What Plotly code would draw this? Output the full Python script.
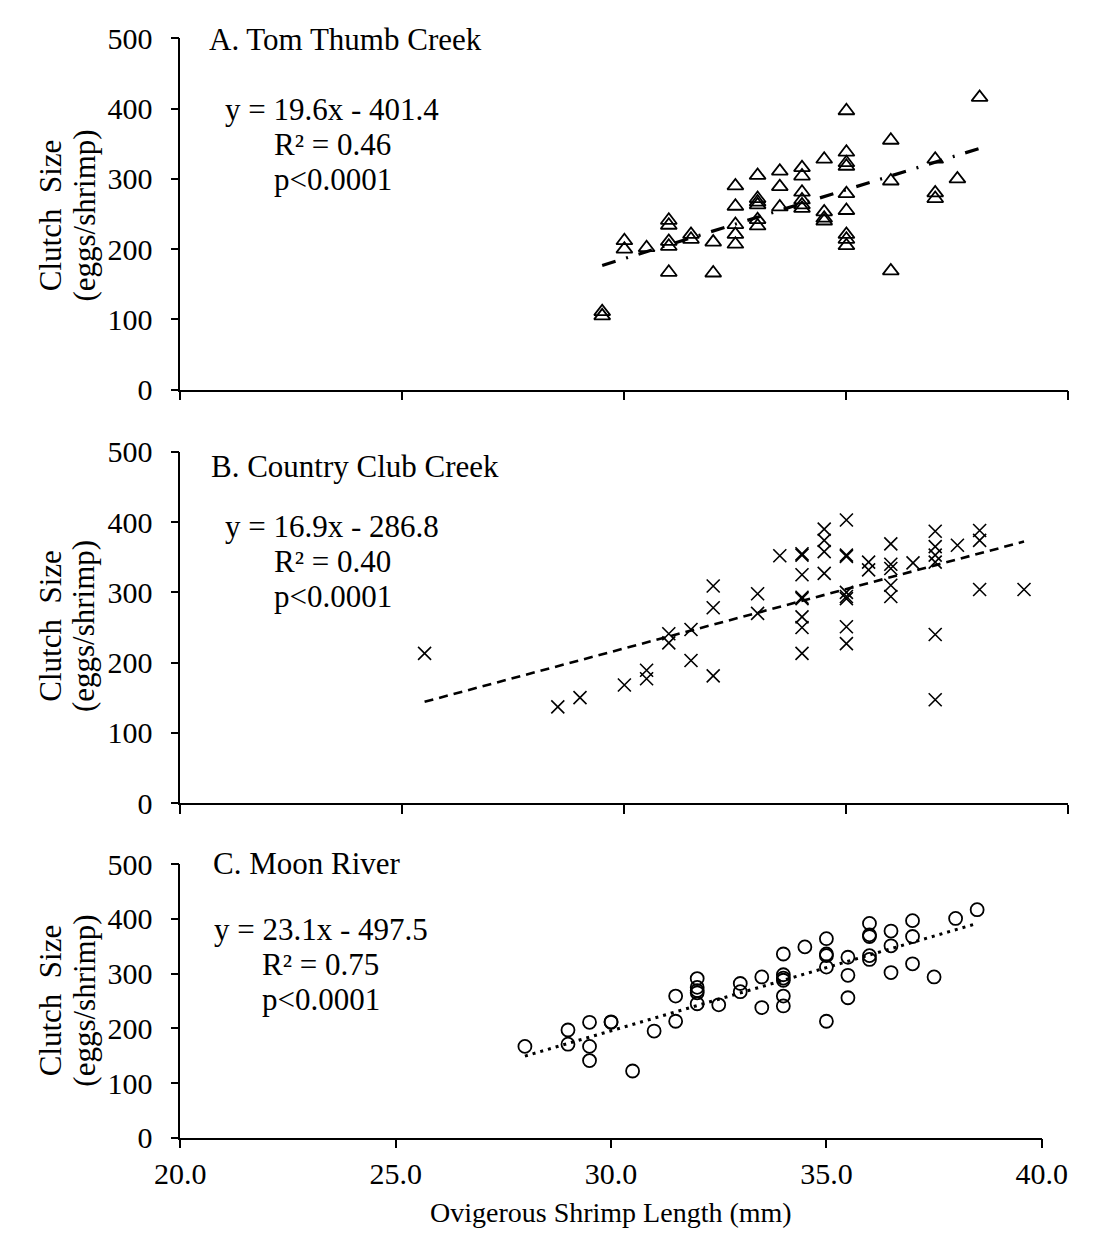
import plotly.graph_objects as go

W, H = 1103, 1251
FONT = "Liberation Serif, Times New Roman, serif"

# ---- Panel A: Tom Thumb Creek (triangles) ----
a_len = [29.5, 29.5,
         30.0, 30.0,
         30.5,
         31.0, 31.0, 31.0, 31.0, 31.0,
         31.5, 31.5,
         32.0, 32.0,
         32.5, 32.5, 32.5, 32.5, 32.5,
         33.0, 33.0, 33.0, 33.0, 33.0, 33.0,
         33.5, 33.5, 33.5,
         34.0, 34.0, 34.0, 34.0, 34.0, 34.0,
         34.5, 34.5, 34.5, 34.5,
         35.0, 35.0, 35.0, 35.0, 35.0, 35.0, 35.0, 35.0, 35.0,
         36.0, 36.0, 36.0,
         37.0, 37.0, 37.0,
         37.5,
         38.0]
a_clutch = [111, 105,
            212, 200,
            202,
            241, 234, 211, 204, 167,
            221, 214,
            210, 166,
            290, 261, 235, 221, 207,
            305, 272, 267, 263, 242, 233,
            311, 289, 260,
            316, 304, 281, 270, 263, 258,
            328, 253, 244, 240,
            397, 338, 323, 318, 279, 255, 221, 214, 205,
            355, 297, 169,
            328, 280, 272,
            300,
            416]

# ---- Panel B: Country Club Creek (crosses) ----
b_len = [25.5,
         28.5,
         29.0,
         30.0,
         30.5, 30.5,
         31.0, 31.0,
         31.5, 31.5,
         32.0, 32.0, 32.0,
         33.0, 33.0,
         33.5,
         34.0, 34.0, 34.0, 34.0, 34.0, 34.0, 34.0, 34.0,
         34.5, 34.5, 34.5, 34.5,
         35.0, 35.0, 35.0, 35.0, 35.0, 35.0, 35.0, 35.0,
         35.5, 35.5,
         36.0, 36.0, 36.0, 36.0, 36.0,
         36.5,
         37.0, 37.0, 37.0, 37.0, 37.0, 37.0,
         37.5,
         38.0, 38.0, 38.0,
         39.0]
b_clutch = [213,
            137,
            150,
            168,
            189, 177,
            241, 228,
            247, 203,
            309, 278, 181,
            298, 270,
            352,
            355, 353, 325, 293, 291, 265, 250, 213,
            390, 374, 358, 327,
            403, 353, 351, 300, 294, 291, 251, 227,
            343, 332,
            369, 340, 334, 310, 294,
            342,
            387, 365, 353, 343, 240, 147,
            367,
            388, 374, 304,
            304]

# ---- Panel C: Moon River (circles) ----
c_len = [28.0,
         29.0, 29.0,
         29.5, 29.5, 29.5,
         30.0, 30.0,
         30.5,
         31.0,
         31.5, 31.5,
         32.0, 32.0, 32.0, 32.0, 32.0,
         32.5,
         33.0, 33.0,
         33.5, 33.5,
         34.0, 34.0, 34.0, 34.0, 34.0, 34.0,
         34.5,
         35.0, 35.0, 35.0, 35.0, 35.0,
         35.5, 35.5, 35.5,
         36.0, 36.0, 36.0, 36.0, 36.0,
         36.5, 36.5, 36.5,
         37.0, 37.0, 37.0,
         37.5,
         38.0,
         38.5]
c_clutch = [167,
            197, 171,
            211, 167, 141,
            212, 211,
            122,
            195,
            259, 213,
            291, 275, 269, 265, 245,
            243,
            282, 267,
            294, 238,
            336, 298, 292, 288, 259, 241,
            349,
            364, 336, 333, 312, 213,
            330, 297, 256,
            392, 371, 368, 333, 326,
            378, 351, 302,
            397, 368, 318,
            294,
            401,
            417]

# regression lines: slope, intercept, R², significance
slopes = [19.6, 16.9, 23.1]
intercepts = [-401.4, -286.8, -497.5]
r_squared = ["0.46", "0.40", "0.75"]
p_text = ["p<0.0001", "p<0.0001", "p<0.0001"]
panel_titles = ["A. Tom Thumb Creek", "B. Country Club Creek", "C. Moon River"]

x_ticks = [20, 25, 30, 35, 40]
x_ticktext = ["20.0", "25.0", "30.0", "35.0", "40.0"]
y_ticks = [0, 100, 200, 300, 400, 500]


def px(x):
    return x / W


def py(y):
    return 1 - y / H


# plot-area boxes in pixels: (left, right, top, bottom)
boxes = [(162, 1094, 22, 383),
         (162, 1094, 447, 808),
         (162, 1066, 871, 1152)]

fig = go.Figure()

series = [(a_len, a_clutch, "triangle-up-open", 14, 1.8),
          (b_len, b_clutch, "x-thin-open", 13, 1.6),
          (c_len, c_clutch, "circle-open", 13, 1.8)]
line_dash = ["14px,11px,2px,11px", "9px,6px", "3px,5px"]
line_width = [3.2, 2.6, 3]

for i, (xs, ys, sym, size, lw) in enumerate(series):
    xa = "x" if i == 0 else f"x{i + 1}"
    ya = "y" if i == 0 else f"y{i + 1}"
    fig.add_trace(go.Scatter(
        x=xs, y=ys, mode="markers", xaxis=xa, yaxis=ya,
        marker=dict(symbol=sym, size=size, color="black",
                    line=dict(color="black", width=lw)),
        showlegend=False, hoverinfo="skip"))
    x0, x1 = min(xs), max(xs)
    fig.add_trace(go.Scatter(
        x=[x0, x1],
        y=[slopes[i] * x0 + intercepts[i], slopes[i] * x1 + intercepts[i]],
        mode="lines", xaxis=xa, yaxis=ya,
        line=dict(color="black", width=line_width[i], dash=line_dash[i]),
        showlegend=False, hoverinfo="skip"))

layout = dict(
    width=W, height=H,
    margin=dict(l=0, r=0, t=0, b=0),
    paper_bgcolor="white", plot_bgcolor="white",
    font=dict(family=FONT, color="black", size=29),
)

annotations = []
for i, (l, r, t, b) in enumerate(boxes):
    sx = "" if i == 0 else str(i + 1)
    last = i == 2
    layout["xaxis" + sx] = dict(
        domain=[px(l), px(r)], range=[20, 40], anchor="y" + sx,
        showline=True, linecolor="black", linewidth=1.6,
        ticks="outside", ticklen=9, tickwidth=1.6, tickcolor="black",
        tickvals=x_ticks, ticktext=x_ticktext,
        showticklabels=last, ticklabelstandoff=0,
        tickfont=dict(family=FONT, size=30, color="black"),
        showgrid=False, zeroline=False, fixedrange=True,
    )
    layout["yaxis" + sx] = dict(
        domain=[py(b), py(t)], range=[0, 500], anchor="x" + sx,
        showline=True, linecolor="black", linewidth=1.6,
        ticks="outside", ticklen=8, tickwidth=1.6, tickcolor="black",
        tickvals=y_ticks, ticklabelstandoff=12,
        tickfont=dict(family=FONT, size=30, color="black"),
        showgrid=False, zeroline=False, fixedrange=True,
    )

    # panel heading and regression statistics
    title_y = [23, 462, 870][i]
    eq_x = [207, 207, 195][i]
    stat_x = [258, 258, 246][i]
    eq_y = [95, 524, 938][i]
    txt_font = dict(family=FONT, size=31)
    annotations.append(dict(text=panel_titles[i], x=px([190, 192, 194][i]), y=py(title_y),
                            xref="paper", yref="paper", xanchor="left", yanchor="middle",
                            showarrow=False, font=txt_font))
    eq = f"y = {slopes[i]}x - {abs(intercepts[i])}"
    annotations.append(dict(text=eq, x=px(eq_x), y=py(eq_y),
                            xref="paper", yref="paper", xanchor="left", yanchor="middle",
                            showarrow=False, font=txt_font))
    annotations.append(dict(text=f"R² = {r_squared[i]}", x=px(stat_x), y=py(eq_y + 36),
                            xref="paper", yref="paper", xanchor="left", yanchor="middle",
                            showarrow=False, font=txt_font))
    annotations.append(dict(text=p_text[i], x=px(stat_x), y=py(eq_y + 72),
                            xref="paper", yref="paper", xanchor="left", yanchor="middle",
                            showarrow=False, font=txt_font))

    # two-line y-axis title
    mid = [204, 626, 1011][i]
    annotations.append(dict(text="Clutch\u00a0 Size", x=px(26), y=py(mid),
                            xref="paper", yref="paper", xanchor="center", yanchor="middle",
                            textangle=-90, showarrow=False, font=txt_font))
    annotations.append(dict(text="(eggs/shrimp)", x=px(61), y=py(mid),
                            xref="paper", yref="paper", xanchor="center", yanchor="middle",
                            textangle=-90, showarrow=False, font=txt_font))

annotations.append(dict(text="Ovigerous Shrimp Length (mm)", x=px(614), y=py(1229),
                        xref="paper", yref="paper", xanchor="center", yanchor="middle",
                        showarrow=False, font=dict(family=FONT, size=28)))

layout["annotations"] = annotations
fig.update_layout(**layout)

fig.write_html("out.html")
